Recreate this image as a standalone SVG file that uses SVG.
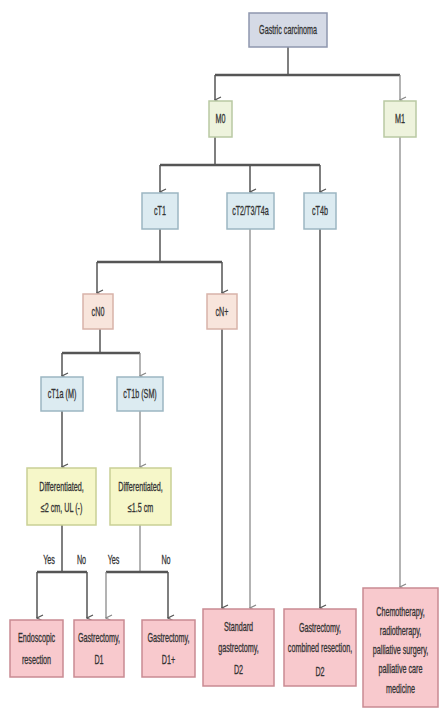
<svg xmlns="http://www.w3.org/2000/svg" width="447" height="715" viewBox="0 0 447 715">
<defs>
<marker id="ah" markerWidth="8" markerHeight="8" refX="4" refY="7" orient="auto" markerUnits="userSpaceOnUse" viewBox="0 0 8 8">
<path d="M1,1 L4,7 L7,1" fill="none" stroke="#555" stroke-width="1.2"/>
</marker>
<marker id="ahl" markerWidth="8" markerHeight="8" refX="4" refY="7" orient="auto" markerUnits="userSpaceOnUse" viewBox="0 0 8 8">
<path d="M1,1 L4,7 L7,1" fill="none" stroke="#888" stroke-width="1.2"/>
</marker>
</defs>
<style>
text{font-family:"Liberation Sans",Arial,sans-serif;font-size:12px;fill:#333;stroke:#333;stroke-width:0.3px;text-anchor:middle}
.gray rect{fill:#d5dae6;stroke:#8e97ae;stroke-width:1.5}
.m rect{fill:#eef3dd;stroke:#b9c9a3;stroke-width:1.5}
.t rect{fill:#dcebf1;stroke:#9cb6c2;stroke-width:1.5}
.n rect{fill:#f8e5dc;stroke:#d8b3a9;stroke-width:1.5}
.d rect{fill:#f6f7c9;stroke:#c9d095;stroke-width:1.5}
.r rect{fill:#f8c9cd;stroke:#c98a92;stroke-width:1.5}
.c path{fill:none;stroke:#555;stroke-width:1.5}
.c .bar{stroke-width:2.6}
.c .lt{stroke:#8a8a8a;stroke-width:1.3}
</style>
<g id="connectors" class="c">
<path d="M288,47 V75"/>
<path class="bar" d="M215,75 H400"/>
<path d="M215,75 V100" marker-end="url(#ah)"/>
<path class="lt" d="M400,75 V100" marker-end="url(#ahl)"/>
<path d="M215,137 V165"/>
<path class="bar" d="M160,165 H320"/>
<path d="M160,165 V192" marker-end="url(#ah)"/>
<path d="M250,165 V192" marker-end="url(#ah)"/>
<path d="M320,165 V192" marker-end="url(#ah)"/>
<path d="M160,229 V262"/>
<path class="bar" d="M97,262 H222"/>
<path d="M97,262 V293" marker-end="url(#ah)"/>
<path d="M222,262 V293" marker-end="url(#ah)"/>
<path d="M100,329 V353"/>
<path class="bar" d="M62,353 H140"/>
<path d="M62,353 V376" marker-end="url(#ah)"/>
<path class="lt" d="M140,353 V376" marker-end="url(#ahl)"/>
<path d="M62,411 V467" marker-end="url(#ah)"/>
<path class="lt" d="M140,411 V467" marker-end="url(#ahl)"/>
<path d="M62,525 V572"/>
<path class="bar" d="M37,572 H87"/>
<path d="M37,572 V618" marker-end="url(#ah)"/>
<path d="M87,572 V618" marker-end="url(#ah)"/>
<path class="lt" d="M140,525 V572"/>
<path class="bar" d="M106,572 H168"/>
<path class="lt" d="M106,572 V618" marker-end="url(#ahl)"/>
<path d="M168,572 V618" marker-end="url(#ah)"/>
<path d="M222,329 V608" marker-end="url(#ah)"/>
<path class="lt" d="M250,229 V608" marker-end="url(#ahl)"/>
<path d="M320,229 V608" marker-end="url(#ah)"/>
<path class="lt" d="M400,137 V587" marker-end="url(#ahl)"/>
</g>
<g id="labels">
<text transform="translate(49,564) scale(0.6,1)">Yes</text>
<text transform="translate(81.5,564) scale(0.6,1)">No</text>
<text transform="translate(113.5,564) scale(0.6,1)">Yes</text>
<text transform="translate(166,564) scale(0.6,1)">No</text>
</g>
<g id="gastric" class="gray"><rect x="249" y="13" width="78" height="34"/><text transform="translate(288,34) scale(0.6,1)">Gastric carcinoma</text></g>
<g id="m0" class="m"><rect x="209" y="101" width="23" height="36"/><text transform="translate(220.5,123) scale(0.6,1)">M0</text></g>
<g id="m1" class="m"><rect x="384" y="101" width="32" height="36"/><text transform="translate(400,123) scale(0.6,1)">M1</text></g>
<g id="ct1" class="t"><rect x="142" y="193" width="36" height="36"/><text transform="translate(160,215) scale(0.6,1)">cT1</text></g>
<g id="ct2" class="t"><rect x="227" y="193" width="47" height="36"/><text transform="translate(250.5,215) scale(0.6,1)">cT2/T3/T4a</text></g>
<g id="ct4b" class="t"><rect x="304" y="193" width="32" height="36"/><text transform="translate(320,215) scale(0.6,1)">cT4b</text></g>
<g id="cn0" class="n"><rect x="83" y="294" width="30" height="35"/><text transform="translate(98,315.5) scale(0.6,1)">cN0</text></g>
<g id="cnplus" class="n"><rect x="207" y="294" width="30" height="35"/><text transform="translate(222,315.5) scale(0.6,1)">cN+</text></g>
<g id="ct1a" class="t"><rect x="41" y="377" width="42" height="34"/><text transform="translate(62,398) scale(0.6,1)">cT1a (M)</text></g>
<g id="ct1b" class="t"><rect x="117" y="377" width="46" height="34"/><text transform="translate(140,398) scale(0.6,1)">cT1b (SM)</text></g>
<g id="diff1" class="d"><rect x="27" y="468" width="69" height="57"/><text transform="translate(61.5,491) scale(0.6,1)">Differentiated,</text><text transform="translate(61.5,512) scale(0.6,1)">≤2 cm, UL (-)</text></g>
<g id="diff2" class="d"><rect x="110" y="468" width="61" height="57"/><text transform="translate(140.5,491) scale(0.6,1)">Differentiated,</text><text transform="translate(140.5,512) scale(0.6,1)">≤1.5 cm</text></g>
<g id="endo" class="r"><rect x="10" y="620" width="53" height="57"/><text transform="translate(36.5,642) scale(0.6,1)">Endoscopic</text><text transform="translate(36.5,664) scale(0.6,1)">resection</text></g>
<g id="gd1" class="r"><rect x="74" y="620" width="50" height="57"/><text transform="translate(99,642) scale(0.6,1)">Gastrectomy,</text><text transform="translate(99,664) scale(0.6,1)">D1</text></g>
<g id="gd1p" class="r"><rect x="142" y="620" width="53" height="57"/><text transform="translate(168.5,642) scale(0.6,1)">Gastrectomy,</text><text transform="translate(168.5,664) scale(0.6,1)">D1+</text></g>
<g id="std" class="r"><rect x="203" y="609" width="71" height="77"/><text transform="translate(238.5,631) scale(0.6,1)">Standard</text><text transform="translate(238.5,652) scale(0.6,1)">gastrectomy,</text><text transform="translate(238.5,674) scale(0.6,1)">D2</text></g>
<g id="comb" class="r"><rect x="284" y="609" width="72" height="77"/><text transform="translate(320,632) scale(0.6,1)">Gastrectomy,</text><text transform="translate(320,652) scale(0.6,1)">combined resection,</text><text transform="translate(320,676) scale(0.6,1)">D2</text></g>
<g id="chemo" class="r"><rect x="363" y="588" width="75" height="119"/><text transform="translate(400.5,616) scale(0.6,1)">Chemotherapy,</text><text transform="translate(400.5,635) scale(0.6,1)">radiotherapy,</text><text transform="translate(400.5,654) scale(0.6,1)">palliative surgery,</text><text transform="translate(400.5,673) scale(0.6,1)">palliative care</text><text transform="translate(400.5,693) scale(0.6,1)">medicine</text></g>
</svg>
